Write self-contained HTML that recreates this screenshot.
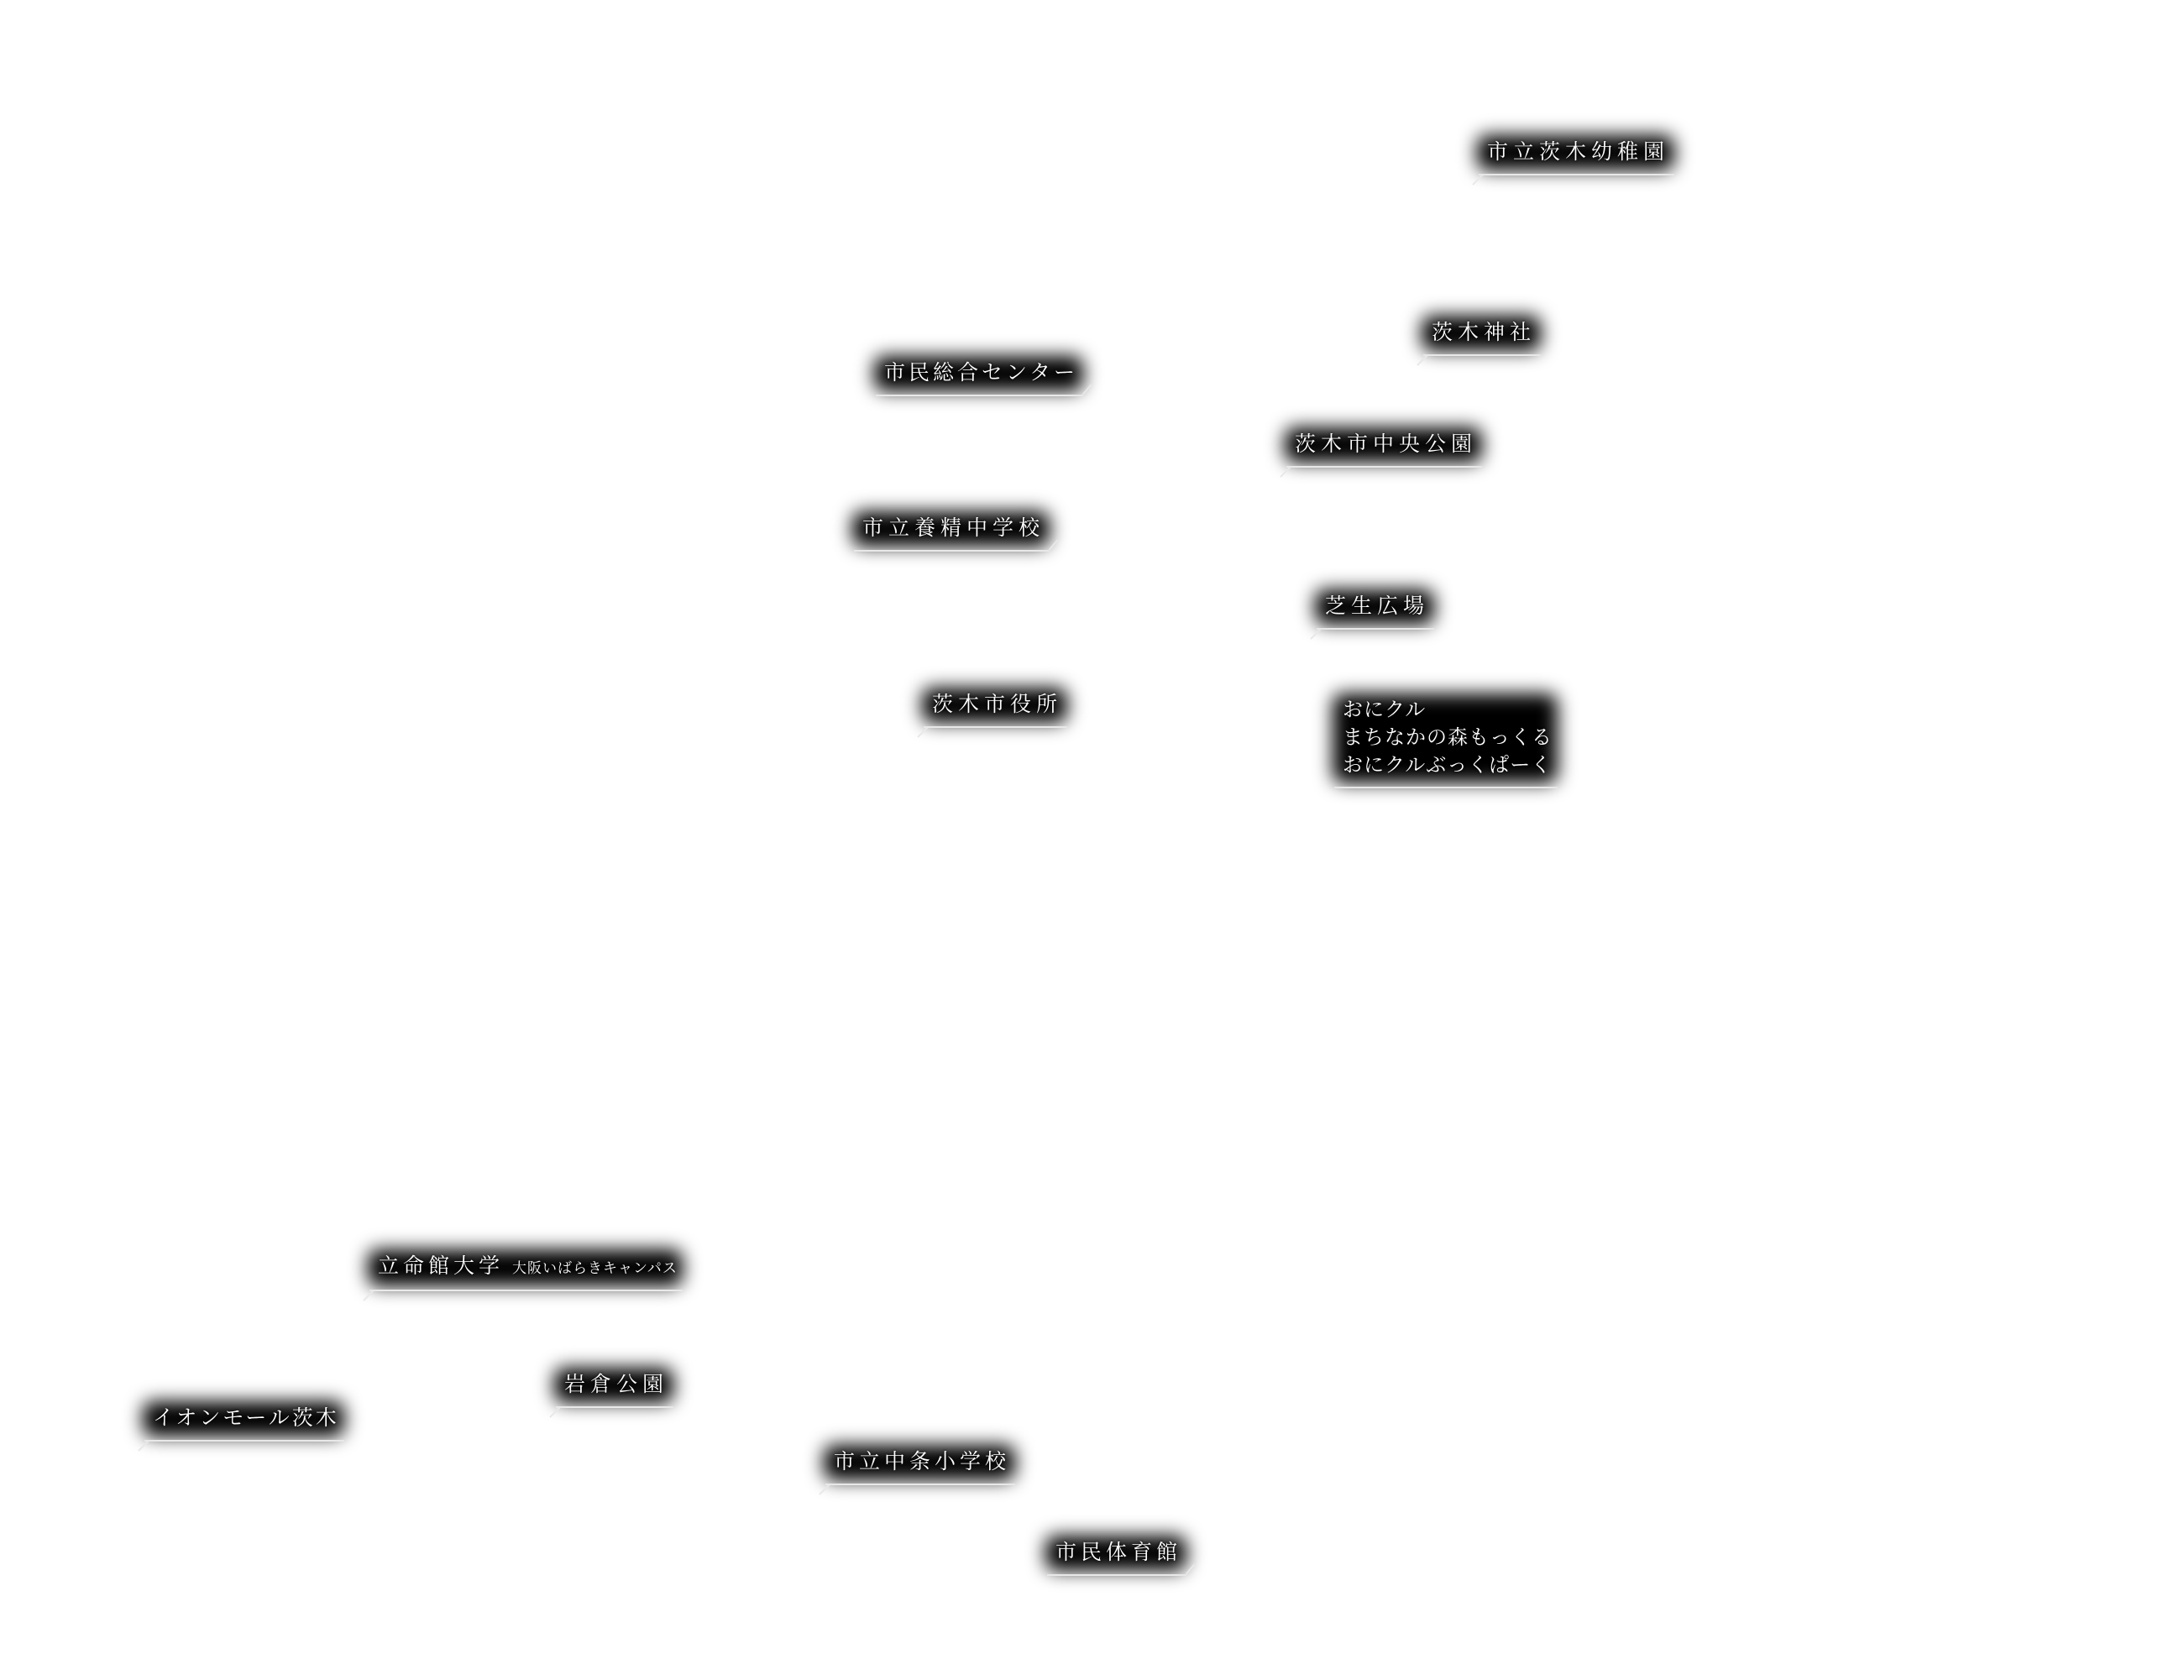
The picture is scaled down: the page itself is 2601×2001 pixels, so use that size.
<!DOCTYPE html>
<html><head><meta charset="utf-8"><style>
html,body{margin:0;padding:0;background:#fff;width:2601px;height:2001px;overflow:hidden;position:relative}
.l{position:absolute;z-index:1;font-family:"Liberation Serif","Noto Serif CJK SC","Noto Sans CJK JP",serif;color:#fff;font-size:25px;letter-spacing:6px;line-height:34px;white-space:nowrap}
.l::before{content:"";position:absolute;left:-12px;right:-6px;top:-4px;bottom:-4px;background:#000;filter:blur(11px);z-index:-1;border-radius:12px}
.l .t{position:relative;text-shadow:0 0 3px #000}
.l .u{position:absolute;left:-10px;right:-6px;bottom:-10px;height:2px;background:#e8e8e8}
.l .d{position:absolute;left:-22px;bottom:-10px;width:17px;height:2px;background:#e8e8e8;transform-origin:right center;transform:rotate(-45deg)}
.l .dr{position:absolute;right:-18px;bottom:-3px;width:15px;height:2px;background:#e8e8e8;transform:rotate(-50deg)}
.s{font-size:17px;letter-spacing:1px;margin-left:10px}
</style></head><body>
<div class="l" style="left:1771px;top:165px"><span class="t">市立茨木幼稚園</span><i class="u"></i><i class="d"></i></div>
<div class="l" style="left:1705px;top:380px"><span class="t">茨木神社</span><i class="u"></i><i class="d"></i></div>
<div class="l" style="left:1053px;top:428px;letter-spacing:4px"><span class="t">市民総合センター</span><i class="u"></i><i class="dr"></i></div>
<div class="l" style="left:1542px;top:513px"><span class="t">茨木市中央公園</span><i class="u"></i><i class="d"></i></div>
<div class="l" style="left:1027px;top:613px"><span class="t">市立養精中学校</span><i class="u"></i><i class="dr"></i></div>
<div class="l" style="left:1578px;top:706px"><span class="t">芝生広場</span><i class="u"></i><i class="d"></i></div>
<div class="l" style="left:1110px;top:823px"><span class="t">茨木市役所</span><i class="u"></i><i class="d"></i></div>
<div class="l" style="left:1599px;top:830px;line-height:33px;font-size:24px;letter-spacing:1px"><span class="t">おにクル<br>まちなかの森もっくる<br>おにクルぶっくぱーく</span><i class="u"></i></div>
<div class="l" style="left:450px;top:1492px;letter-spacing:5px"><span class="t">立命館大学<span class="s">大阪いばらきキャンパス</span></span><i class="u"></i><i class="d"></i></div>
<div class="l" style="left:672px;top:1633px"><span class="t">岩倉公園</span><i class="u"></i><i class="d"></i></div>
<div class="l" style="left:182px;top:1673px;letter-spacing:3px"><span class="t">イオンモール茨木</span><i class="u"></i><i class="d"></i></div>
<div class="l" style="left:993px;top:1725px;letter-spacing:5px"><span class="t">市立中条小学校</span><i class="u"></i><i class="d"></i></div>
<div class="l" style="left:1257px;top:1833px;letter-spacing:5px"><span class="t">市民体育館</span><i class="u"></i><i class="dr"></i></div>
</body></html>
